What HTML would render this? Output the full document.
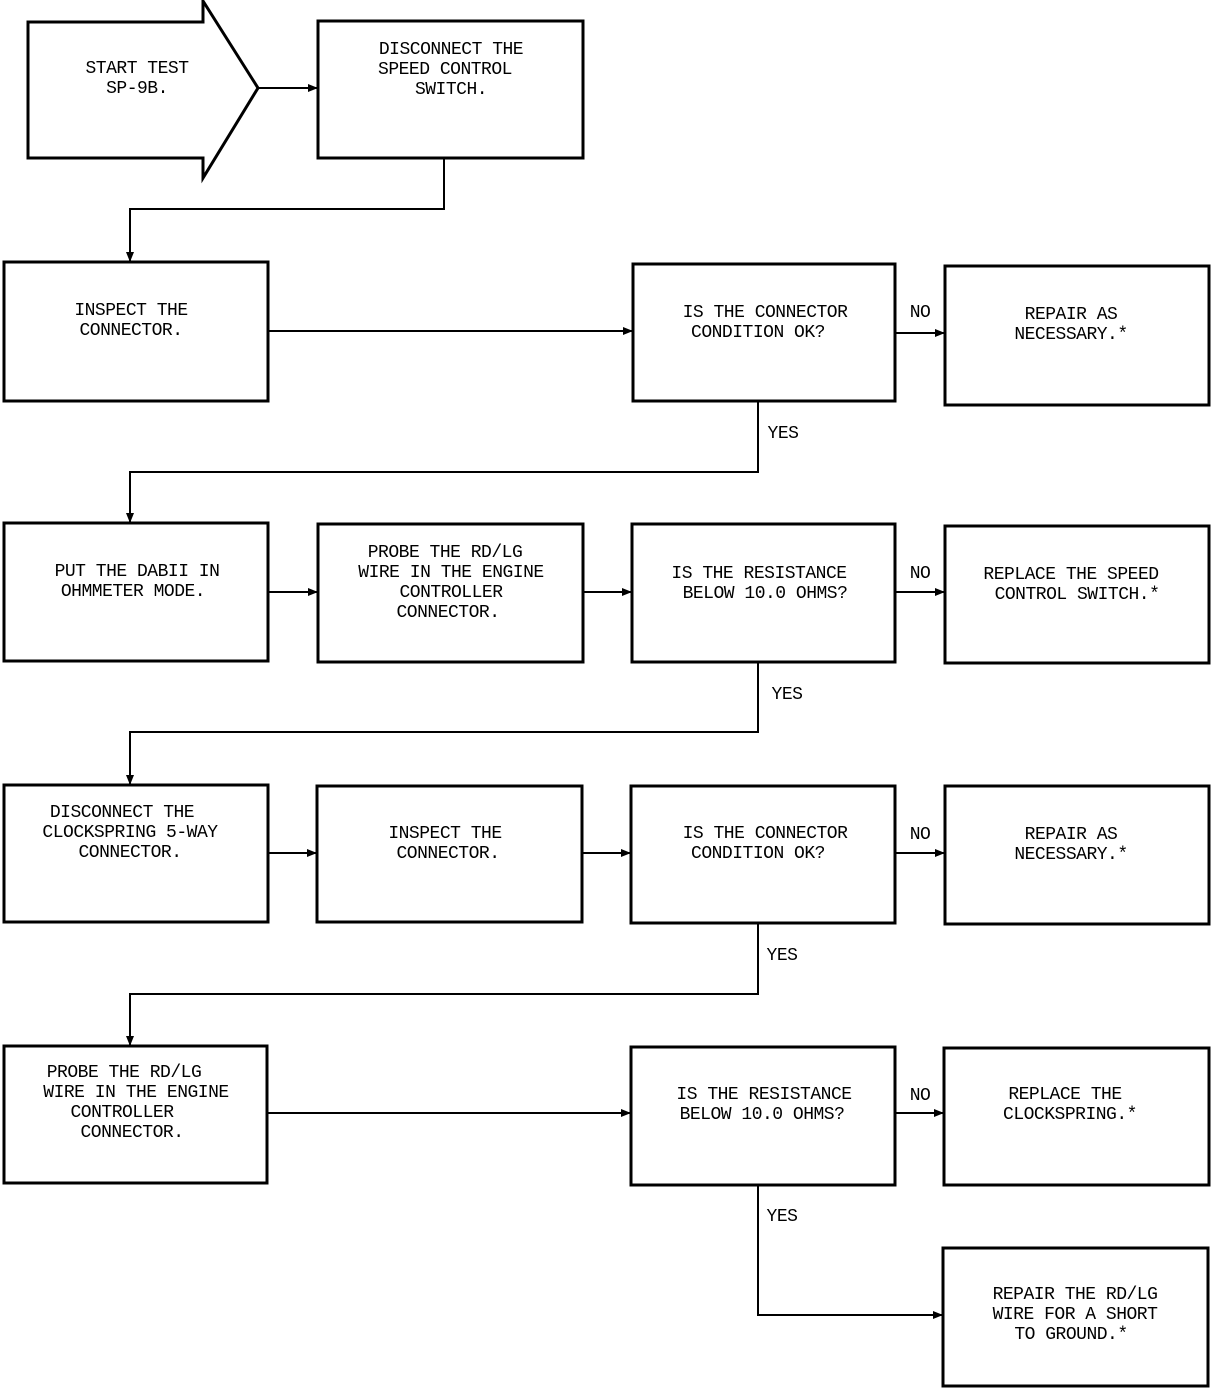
<!DOCTYPE html>
<html><head><meta charset="utf-8"><style>
html,body{margin:0;padding:0;background:#fff;}
svg{display:block}
text{font-family:"Liberation Mono",monospace;font-size:18px;fill:#000;text-anchor:middle;dominant-baseline:middle;letter-spacing:-0.5px}
</style></head><body>
<svg width="1216" height="1388" viewBox="0 0 1216 1388" xmlns="http://www.w3.org/2000/svg">
<defs><marker id="a" markerWidth="10" markerHeight="8" refX="9" refY="4" orient="auto" markerUnits="userSpaceOnUse"><path d="M0,0 L10,4 L0,8 Z" fill="#000"/></marker></defs>
<g fill="none" stroke="#000" stroke-width="3">
<path d="M28,22 H203 V1 L258,88 L203,178 V158 H28 Z"/>
<rect x="318" y="21" width="265" height="137"/>
<rect x="4" y="262" width="264" height="139"/>
<rect x="633" y="264" width="262" height="137"/>
<rect x="945" y="266" width="264" height="139"/>
<rect x="4" y="523" width="264" height="138"/>
<rect x="318" y="524" width="265" height="138"/>
<rect x="632" y="524" width="263" height="138"/>
<rect x="945" y="526" width="264" height="137"/>
<rect x="4" y="785" width="264" height="137"/>
<rect x="317" y="786" width="265" height="136"/>
<rect x="631" y="786" width="264" height="137"/>
<rect x="945" y="786" width="264" height="138"/>
<rect x="4" y="1046" width="263" height="137"/>
<rect x="631" y="1047" width="264" height="138"/>
<rect x="944" y="1048" width="265" height="137"/>
<rect x="943" y="1248" width="265" height="138"/>
</g>
<g fill="none" stroke="#000" stroke-width="2">
<path d="M258,88 H317" marker-end="url(#a)"/>
<path d="M444,158 V209 H130 V261" marker-end="url(#a)"/>
<path d="M268,331 H632" marker-end="url(#a)"/>
<path d="M895,333 H944" marker-end="url(#a)"/>
<path d="M758,401 V472 H130 V522" marker-end="url(#a)"/>
<path d="M268,592 H317" marker-end="url(#a)"/>
<path d="M583,592 H631" marker-end="url(#a)"/>
<path d="M895,592 H944" marker-end="url(#a)"/>
<path d="M758,662 V732 H130 V784" marker-end="url(#a)"/>
<path d="M268,853 H316" marker-end="url(#a)"/>
<path d="M582,853 H630" marker-end="url(#a)"/>
<path d="M895,853 H944" marker-end="url(#a)"/>
<path d="M758,923 V994 H130 V1045" marker-end="url(#a)"/>
<path d="M267,1113 H630" marker-end="url(#a)"/>
<path d="M895,1113 H943" marker-end="url(#a)"/>
<path d="M758,1185 V1315 H942" marker-end="url(#a)"/>
</g>
<text x="137" y="68">START TEST</text><text x="137" y="88">SP-9B.</text>
<text x="451" y="49">DISCONNECT THE</text><text x="445" y="69">SPEED CONTROL</text><text x="451" y="89">SWITCH.</text>
<text x="131" y="310">INSPECT THE</text><text x="131" y="330">CONNECTOR.</text>
<text x="765" y="312">IS THE CONNECTOR</text><text x="758" y="332">CONDITION OK?</text>
<text x="1071" y="314">REPAIR AS</text><text x="1071" y="334">NECESSARY.*</text>
<text x="137" y="571">PUT THE DABII IN</text><text x="133" y="591">OHMMETER MODE.</text>
<text x="445" y="552">PROBE THE RD/LG</text><text x="451" y="572">WIRE IN THE ENGINE</text><text x="451" y="592">CONTROLLER</text><text x="448" y="612">CONNECTOR.</text>
<text x="759" y="573">IS THE RESISTANCE</text><text x="765" y="593">BELOW 10.0 OHMS?</text>
<text x="1071" y="574">REPLACE THE SPEED</text><text x="1077" y="594">CONTROL SWITCH.*</text>
<text x="122" y="812">DISCONNECT THE</text><text x="130" y="832">CLOCKSPRING 5-WAY</text><text x="130" y="852">CONNECTOR.</text>
<text x="445" y="833">INSPECT THE</text><text x="448" y="853">CONNECTOR.</text>
<text x="765" y="833">IS THE CONNECTOR</text><text x="758" y="853">CONDITION OK?</text>
<text x="1071" y="834">REPAIR AS</text><text x="1071" y="854">NECESSARY.*</text>
<text x="124" y="1072">PROBE THE RD/LG</text><text x="136" y="1092">WIRE IN THE ENGINE</text><text x="122" y="1112">CONTROLLER</text><text x="132" y="1132">CONNECTOR.</text>
<text x="764" y="1094">IS THE RESISTANCE</text><text x="762" y="1114">BELOW 10.0 OHMS?</text>
<text x="1065" y="1094">REPLACE THE</text><text x="1070" y="1114">CLOCKSPRING.*</text>
<text x="1075" y="1294">REPAIR THE RD/LG</text><text x="1075" y="1314">WIRE FOR A SHORT</text><text x="1071" y="1334">TO GROUND.*</text>
<text x="920" y="312">NO</text><text x="783" y="433">YES</text>
<text x="920" y="573">NO</text><text x="787" y="694">YES</text>
<text x="920" y="834">NO</text><text x="782" y="955">YES</text>
<text x="920" y="1095">NO</text><text x="782" y="1216">YES</text>
</svg>
</body></html>
